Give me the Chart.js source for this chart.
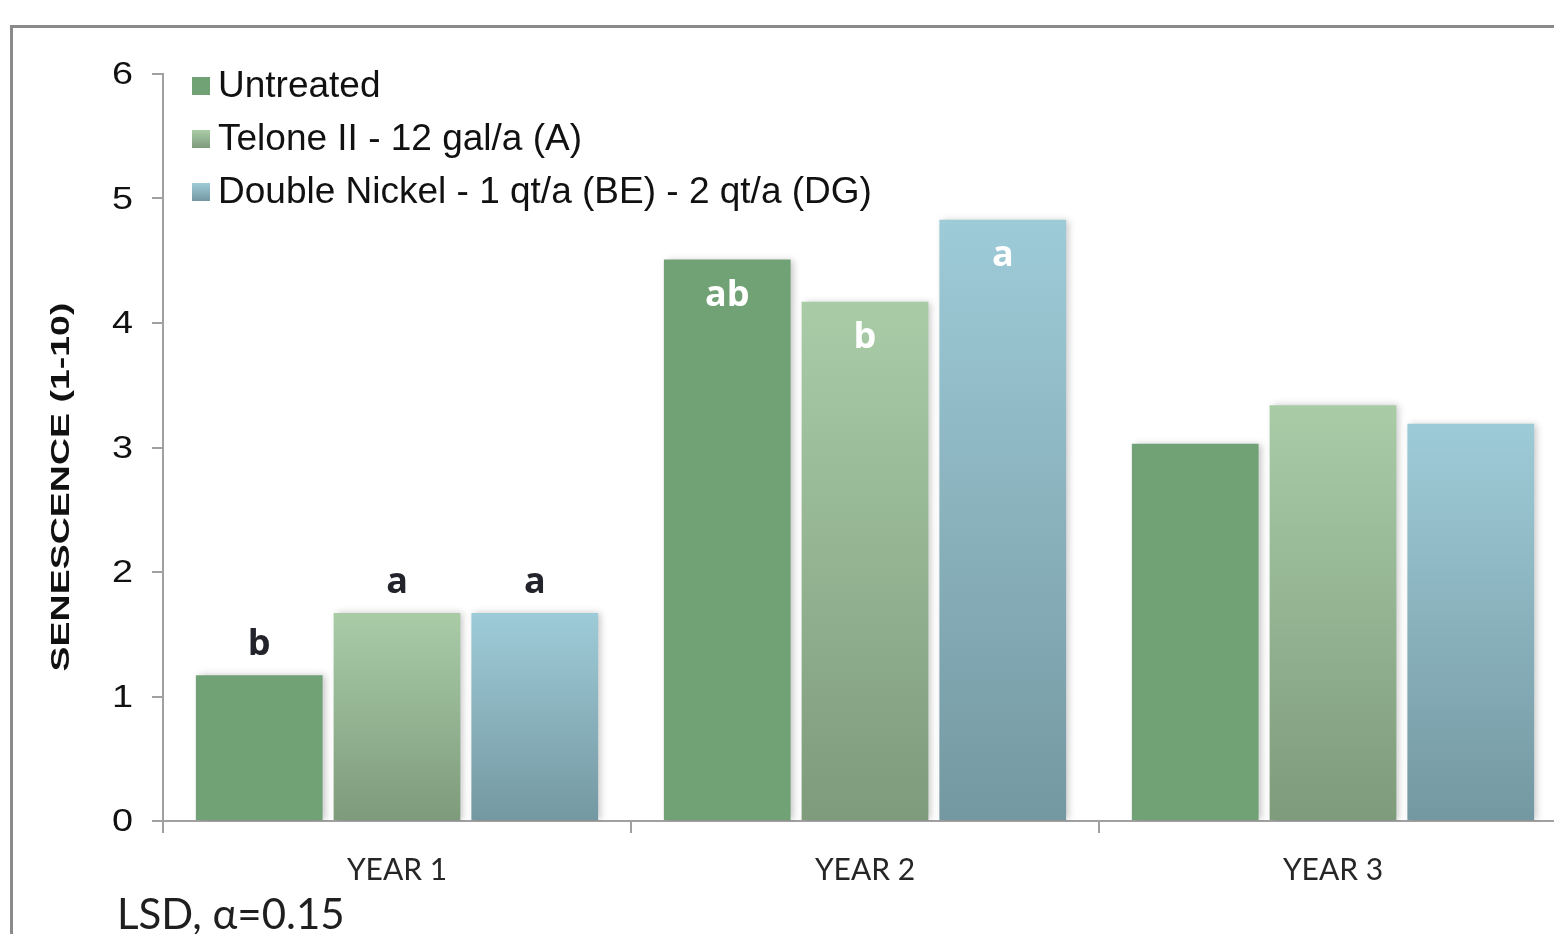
<!DOCTYPE html>
<html>
<head>
<meta charset="utf-8">
<script src="https://cdn.jsdelivr.net/npm/chart.js@4.4.1/dist/chart.umd.min.js"></script>
<style>
  html, body { margin: 0; padding: 0; background: #fff; overflow: hidden; }
  #wrap { position: relative; width: 1580px; height: 934px; }
</style>
</head>
<body>
<div id="wrap"><canvas id="c"></canvas></div>
<script>
// Senescence ratings (1-10) by treatment and year
const years = ['YEAR 1', 'YEAR 2', 'YEAR 3'];
const untreated = [1.17, 4.51, 3.03];
const telone = [1.67, 4.17, 3.34];
const doubleNickel = [1.67, 4.83, 3.19];

// Mean separation letters (LSD)
const untreatedLetters = ['b', 'ab', ''];
const teloneLetters = ['a', 'b', ''];
const doubleNickelLetters = ['a', 'a', ''];

const yTicks = [0, 1, 2, 3, 4, 5, 6];
const seriesNames = ['Untreated', 'Telone II - 12 gal/a (A)', 'Double Nickel - 1 qt/a (BE) - 2 qt/a (DG)'];
const axisTitle = 'SENESCENCE (1-10)';
const footNote = 'LSD, \u03b1=0.15';

// Fill colours: [top, bottom] of each bar's vertical gradient
const fills = [
  ['#71a276', '#71a276'],
  ['#a9cca7', '#7e9b7c'],
  ['#9ecbd8', '#7498a2']
];
// Letters sit inside the bar for the second year, above it otherwise
const lettersInside = [false, true, false];

function barGradient(pair) {
  return (ctx) => {
    const chart = ctx.chart;
    const y = chart.scales && chart.scales.y;
    if (!y || ctx.type !== 'data' || !isFinite(y.top)) return pair[0];
    const yt = y.getPixelForValue(ctx.raw);
    const yb = y.getPixelForValue(0);
    if (!isFinite(yt) || !isFinite(yb) || yt === yb) return pair[0];
    const g = chart.ctx.createLinearGradient(0, yt, 0, yb);
    g.addColorStop(0, pair[0]);
    g.addColorStop(1, pair[1]);
    return g;
  };
}

const decorations = {
  id: 'decorations',
  beforeDraw(chart) {
    const c = chart.ctx;
    // outer frame
    c.save();
    c.strokeStyle = '#8a8a8a';
    c.lineWidth = 3;
    c.beginPath();
    c.moveTo(11.5, chart.height + 5);
    c.lineTo(11.5, 26.5);
    c.lineTo(chart.width + 5, 26.5);
    c.stroke();
    c.restore();
  },
  beforeDatasetsDraw(chart) {
    const c = chart.ctx;
    c.save();
    c.shadowColor = 'rgba(0,0,0,0.22)';
    c.shadowBlur = 7;
    c.shadowOffsetX = 3;
    c.shadowOffsetY = 0;
  },
  afterDatasetsDraw(chart) {
    chart.ctx.restore();
  },
  afterDraw(chart) {
    const c = chart.ctx;
    const letterSets = [untreatedLetters, teloneLetters, doubleNickelLetters];

    // y tick labels (slightly widened digits)
    const ys = chart.scales.y;
    c.save();
    c.font = '31px "Liberation Sans"';
    c.textAlign = 'right';
    c.textBaseline = 'alphabetic';
    c.fillStyle = '#111111';
    yTicks.forEach(v => {
      const py = ys.getPixelForValue(v);
      c.save();
      c.translate(133, py + 10);
      c.scale(1.22, 1);
      c.fillText(String(v), 0, 0);
      c.restore();
    });
    c.restore();

    // significance letters
    c.save();
    c.font = 'bold 36px "Open Sans"';
    c.textAlign = 'center';
    c.textBaseline = 'alphabetic';
    letterSets.forEach((letters, i) => {
      const meta = chart.getDatasetMeta(i);
      meta.data.forEach((bar, j) => {
        const t = letters[j];
        if (!t) return;
        if (lettersInside[j]) {
          c.fillStyle = '#ffffff';
          c.fillText(t, bar.x, bar.y + 46);
        } else {
          c.fillStyle = '#23232b';
          c.fillText(t, bar.x, bar.y - 20);
        }
      });
    });
    c.restore();

    // legend
    c.save();
    c.font = '37px "Liberation Sans"';
    c.textAlign = 'left';
    c.textBaseline = 'alphabetic';
    seriesNames.forEach((name, i) => {
      const sy = 77 + i * 53;
      const g = c.createLinearGradient(0, sy, 0, sy + 18);
      g.addColorStop(0, fills[i][0]);
      g.addColorStop(1, fills[i][1]);
      c.fillStyle = g;
      c.fillRect(192, sy, 18, 18);
      c.fillStyle = '#111111';
      c.fillText(name, 218, sy + 20);
    });
    c.restore();

    // y-axis title (rotated, stretched along its length)
    c.save();
    c.translate(60, 487);
    c.rotate(-Math.PI / 2);
    c.scale(1.5, 1);
    c.font = 'bold 25px "Liberation Sans"';
    c.textAlign = 'center';
    c.textBaseline = 'alphabetic';
    c.fillStyle = '#111111';
    c.fillText(axisTitle, 0, 9);
    c.restore();

    // footnote
    c.save();
    c.font = '42px Lato';
    c.textAlign = 'left';
    c.textBaseline = 'alphabetic';
    c.fillStyle = '#1f1f1f';
    c.fillText(footNote, 117, 929);
    c.restore();
  }
};

new Chart(document.getElementById('c'), {
  type: 'bar',
  data: {
    labels: years,
    datasets: [
      { label: seriesNames[0], data: untreated, backgroundColor: barGradient(fills[0]) },
      { label: seriesNames[1], data: telone, backgroundColor: barGradient(fills[1]) },
      { label: seriesNames[2], data: doubleNickel, backgroundColor: barGradient(fills[2]) }
    ]
  },
  options: {
    responsive: true,
    maintainAspectRatio: false,
    animation: false,
    events: [],
    categoryPercentage: 0.883,
    barPercentage: 0.92,
    layout: { padding: { top: 74, right: 13, left: 0, bottom: 0 } },
    plugins: {
      legend: { display: false },
      tooltip: { enabled: false },
      title: { display: false }
    },
    scales: {
      x: {
        offset: true,
        grid: {
          display: true,
          offset: true,
          drawOnChartArea: false,
          drawTicks: true,
          tickLength: 12,
          color: '#a0a0a0',
          lineWidth: 2
        },
        border: { display: true, color: '#a0a0a0', width: 2 },
        ticks: {
          font: { family: 'Lato', size: 30 },
          color: '#262626',
          padding: 19,
          maxRotation: 0
        },
        afterFit(scale) { scale.height = 934 - 821; }
      },
      y: {
        min: 0,
        max: 6,
        afterBuildTicks(scale) { scale.ticks = yTicks.map(v => ({ value: v })); },
        grid: {
          display: true,
          drawOnChartArea: false,
          drawTicks: true,
          tickLength: 11,
          color: '#a0a0a0',
          lineWidth: 2
        },
        border: { display: true, color: '#a0a0a0', width: 2 },
        ticks: { display: false },
        afterFit(scale) { scale.width = 163; }
      }
    }
  },
  plugins: [decorations]
});
</script>
</body>
</html>
